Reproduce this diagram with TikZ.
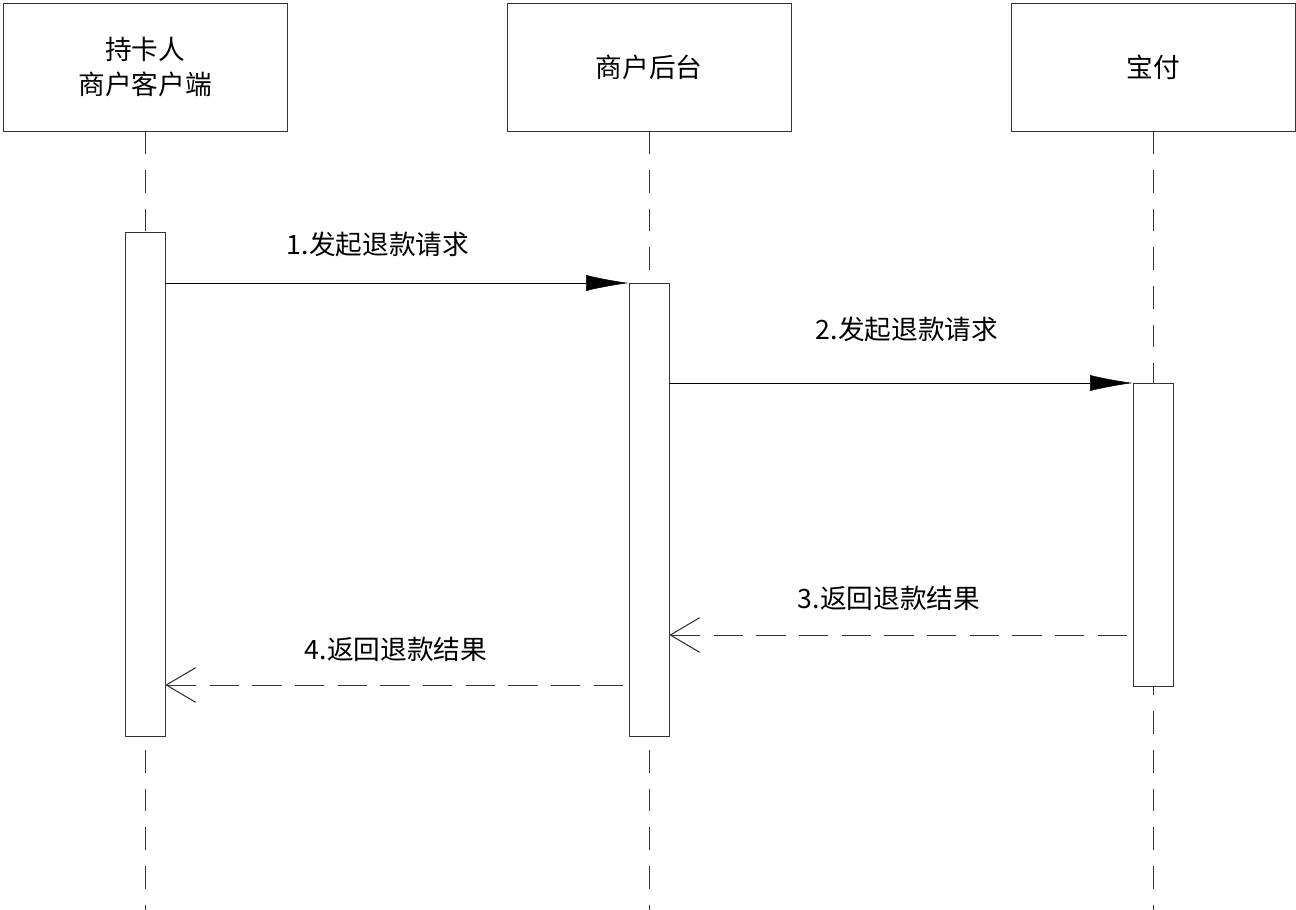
\documentclass[tikz,border=0pt]{standalone}
\usepackage{fontspec}
\setmainfont{Noto Sans CJK SC}
\usetikzlibrary{positioning, arrows.meta}

\begin{document}
\begin{tikzpicture}[
    x=0.75pt, y=-0.75pt,
    % Clean styles
    actor/.style={
        rectangle,
        draw=black!80,
        fill=white,
        minimum width=213pt,
        minimum height=96pt,
        font=\fontsize{20}{26}\selectfont,
        align=center
    },
    actbox/.style={
        rectangle,
        draw=black!80,
        fill=white,
        minimum width=30pt,
        inner sep=0pt
    },
    lifeline/.style={
        black!80,
        dash pattern=on 17pt off 12pt
    },
    call/.style={
        -{Latex[length=32pt, width=12pt]},
        black
    },
    reply/.style={
        -{Straight Barb[length=22pt, width=26pt, line width=0.8pt]},
        black!80,
        dash pattern=on 22pt off 10pt
    },
    msg/.style={
        font=\fontsize{20}{24}\selectfont
    }
]
\useasboundingbox (0,0) rectangle (1296,910);

% === Top: participants ===
\node[actor] (client) at (145, 67) {持卡人\\商户客户端};
\node[actor] (server) at (649, 67) {商户后台};
\node[actor] (pay) at (1153, 67) {宝付};

% === Lifeline ends ===
\coordinate (clientEnd) at (145, 910);
\coordinate (serverEnd) at (649, 910);
\coordinate (payEnd) at (1153, 910);

\draw[lifeline] (client.south) -- (clientEnd);
\draw[lifeline] (server.south) -- (serverEnd);
\draw[lifeline] (pay.south) -- (payEnd);

% === Activation boxes ===
\node[actbox, minimum height=378pt] (clientAct) at (145, 484) {};
\node[actbox, minimum height=340pt] (serverAct) at (649, 509.5) {};
\node[actbox, minimum height=227pt] (payAct) at (1153, 534.5) {};

% === Arrows ===
\coordinate (m1) at (165, 283);
\coordinate (m2) at (669, 383);
\coordinate (m3) at (1127, 635);
\coordinate (m4) at (623, 685);
\draw[call] (m1) -- (m1 -| serverAct.west);
\draw[call] (m2) -- (m2 -| payAct.west);
\draw[reply] (m3) -- (m3 -| serverAct.east);
\draw[reply] (m4) -- (m4 -| clientAct.east);

% === Labels ===
\node[msg] (l1) at (378, 244) {1.发起退款请求};
\node[msg] (l2) at (907, 329) {2.发起退款请求};
\node[msg] (l3) at (889, 598) {3.返回退款结果};
\node[msg] (l4) at (396, 649) {4.返回退款结果};

\end{tikzpicture}
\end{document}
